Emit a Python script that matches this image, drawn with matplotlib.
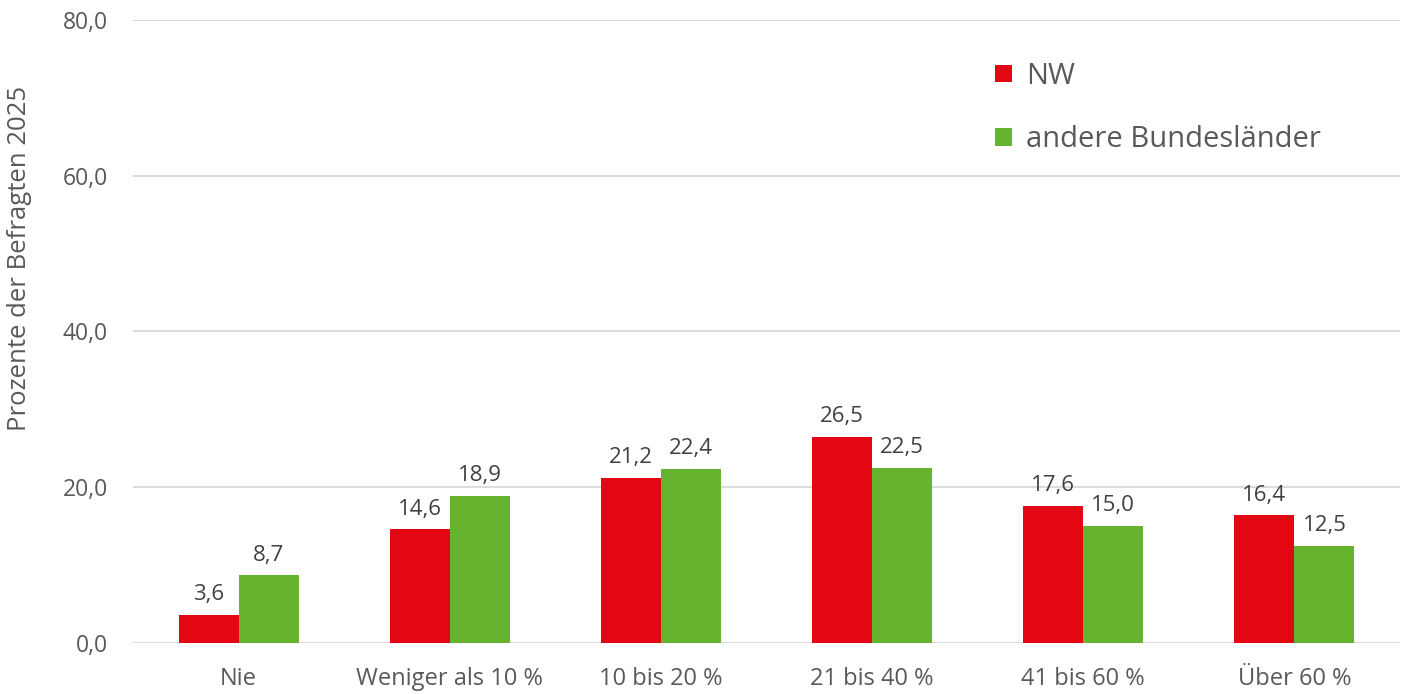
import matplotlib.pyplot as plt
import numpy as np

categories = ['Nie', 'Weniger als 10 %', '10 bis 20 %', '21 bis 40 %', '41 bis 60 %', 'Über 60 %']
nw = [3.6, 14.6, 21.2, 26.5, 17.6, 16.4]
andere = [8.7, 18.9, 22.4, 22.5, 15.0, 12.5]
series_names = ['NW', 'andere Bundesländer']
yticks = [0, 20, 40, 60, 80]

red = '#e30613'
green = '#65b32e'
txt = '#595959'

plt.rcParams['font.family'] = ['Open Sans', 'DejaVu Sans']

fig = plt.figure(figsize=(14.08, 6.94), dpi=100)
ax = fig.add_axes([0.0945, 0.0735, 0.8998, 0.8977])

x = np.arange(len(categories))
w = 0.284
b1 = ax.bar(x - w / 2, nw, w, color=red, label=series_names[0], zorder=3)
b2 = ax.bar(x + w / 2, andere, w, color=green, label=series_names[1], zorder=3)

for bars, vals in [(b1, nw), (b2, andere)]:
    for r, v in zip(bars, vals):
        ax.annotate(f'{v:.1f}'.replace('.', ','), (r.get_x() + r.get_width() / 2, v),
                    xytext=(0, 7), textcoords='offset points', ha='center', va='bottom',
                    fontsize=16, color='#404040')

ax.set_xlim(-0.5, len(categories) - 0.5)
ax.set_ylim(0, 80)
ax.set_yticks(yticks)
ax.set_yticklabels([f'{t:.1f}'.replace('.', ',') for t in yticks], fontsize=16.5, color=txt)
ax.set_xticks(x)
ax.set_xticklabels(categories, fontsize=17, color=txt)
ax.tick_params(length=0)
ax.tick_params(axis='x', pad=17)
ax.tick_params(axis='y', pad=18)
ax.grid(axis='y', color='#d9d9d9', linewidth=1.3, zorder=0)
for s in ax.spines.values():
    s.set_visible(False)

fig.text(0.0142, 0.628, 'Prozente der Befragten 2025', rotation=90, ha='center', va='center',
         fontsize=18.5, color=txt)

ax.legend(loc='upper left', bbox_to_anchor=(0.66, 0.975), frameon=False, fontsize=21,
          labelcolor=txt, handlelength=0.55, handleheight=0.55, handletextpad=0.5,
          labelspacing=1.18)

fig.savefig('out.png', dpi=100)
